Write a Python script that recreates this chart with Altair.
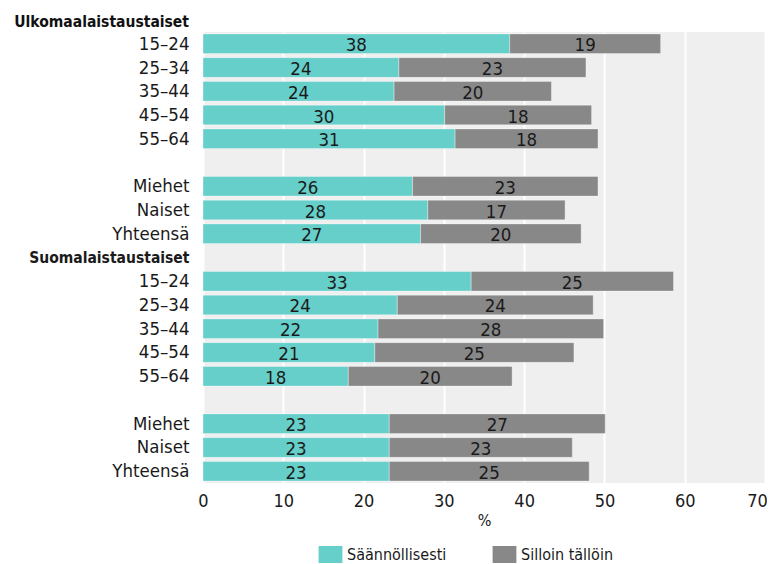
import altair as alt
import pandas as pd

FONT = "'DejaVu Sans Condensed', 'DejaVu Sans', sans-serif"

rows = ["u|15–24", "u|25–34", "u|35–44", "u|45–54", "u|55–64", "u_gap|",
        "u|Miehet", "u|Naiset", "u|Yhteensä",
        "s_head|Suomalaistaustaiset",
        "s|15–24", "s|25–34", "s|35–44", "s|45–54", "s|55–64", "s_gap|",
        "s|Miehet", "s|Naiset", "s|Yhteensä"]

ulko_keys = ["u|15–24", "u|25–34", "u|35–44", "u|45–54", "u|55–64",
             "u|Miehet", "u|Naiset", "u|Yhteensä"]
suomi_keys = ["s|15–24", "s|25–34", "s|35–44", "s|45–54", "s|55–64",
              "s|Miehet", "s|Naiset", "s|Yhteensä"]

series = ["Säännöllisesti", "Silloin tällöin"]
colors = ["#66cfca", "#888888"]

x_ticks = [0, 10, 20, 30, 40, 50, 60, 70]

ulko_regular = [38.2, 24.4, 23.8, 30.1, 31.4, 26.1, 28.0, 27.1]
ulko_occasional = [18.8, 23.3, 19.6, 18.3, 17.8, 23.1, 17.1, 20.0]
suomi_regular = [33.4, 24.2, 21.8, 21.4, 18.1, 23.2, 23.2, 23.2]
suomi_occasional = [25.2, 24.4, 28.1, 24.8, 20.4, 26.9, 22.8, 24.9]

recs = []
for keys, reg, occ in [(ulko_keys, ulko_regular, ulko_occasional),
                       (suomi_keys, suomi_regular, suomi_occasional)]:
    for k, a, b in zip(keys, reg, occ):
        recs.append({"key": k, "series": series[0], "order": 0, "value": a})
        recs.append({"key": k, "series": series[1], "order": 1, "value": b})
df = pd.DataFrame(recs)

yscale = alt.Scale(domain=rows, paddingInner=0.17, paddingOuter=0.08)
is_head = "indexof(datum.value, 'head') >= 0"
HEAD_SIZE = 15.5

yenc = alt.Y(
    "key:N",
    scale=yscale,
    axis=alt.Axis(
        title=None, ticks=False, domain=False, grid=False, labelLimit=400,
        labelPadding=14, labelColor="#1a1a1a", labelFont=FONT,
        labelExpr="split(datum.value, '|')[1]",
        labelFontSize={"condition": {"test": is_head, "value": HEAD_SIZE}, "value": 18.5},
        labelFontWeight={"condition": {"test": is_head, "value": "bold"}, "value": "normal"},
    ),
)

base = alt.Chart(df).transform_stack(
    stack="value", groupby=["key"], as_=["x0", "x1"], sort=[alt.SortField("order")]
)

bars = base.mark_bar(stroke="#ffffff", strokeOpacity=0.35, strokeWidth=1).encode(
    y=yenc,
    x=alt.X(
        "x0:Q",
        scale=alt.Scale(domain=[0, 70], nice=False),
        axis=alt.Axis(
            title="%", values=x_ticks, grid=True,
            gridColor="#ffffff", gridWidth=2, ticks=False, domain=False,
            labelFlush=False,
            labelOffset={"condition": {"test": "datum.value == 70", "value": -8}, "value": 0},
            labelFontSize=18, labelPadding=9, labelColor="#1a1a1a", labelFont=FONT,
            titleFontSize=16, titleFontWeight="normal", titleFont=FONT,
            titleColor="#1a1a1a", titlePadding=2,
        ),
    ),
    x2="x1:Q",
    color=alt.Color(
        "series:N",
        scale=alt.Scale(domain=series, range=colors),
        legend=alt.Legend(
            title=None, orient="none", legendX=119, legendY=514, direction="horizontal",
            symbolType="M-1.4,-1H1.4V1H-1.4Z", symbolSize=289, symbolStrokeWidth=0,
            labelFontSize=16, labelFont=FONT, labelColor="#1a1a1a", labelOffset=8,
            columnPadding=45,
        ),
    ),
)

labels = base.transform_calculate(
    mid="(datum.x0 + datum.x1) / 2", lab="format(datum.value, '.0f')"
).mark_text(fontSize=18.5, font=FONT, color="#1a1a1a", baseline="middle", dy=1.5).encode(
    y=alt.Y("key:N", scale=yscale),
    x=alt.X("mid:Q"),
    text="lab:N",
)

chart = alt.layer(bars, labels).properties(
    width=562, height=451,
    title=alt.TitleParams("Ulkomaalaistaustaiset", anchor="start", align="right", dx=-14,
                          frame="group", fontSize=HEAD_SIZE, fontWeight="bold", font=FONT,
                          color="#111111", offset=2),
    autosize=alt.AutoSizeParams(type="none"),
    padding={"left": 195, "top": 24, "right": 2, "bottom": 80},
).configure_view(fill="#efefef", stroke=None)

chart.save("out.html", embed_options={"renderer": "svg", "actions": False})
